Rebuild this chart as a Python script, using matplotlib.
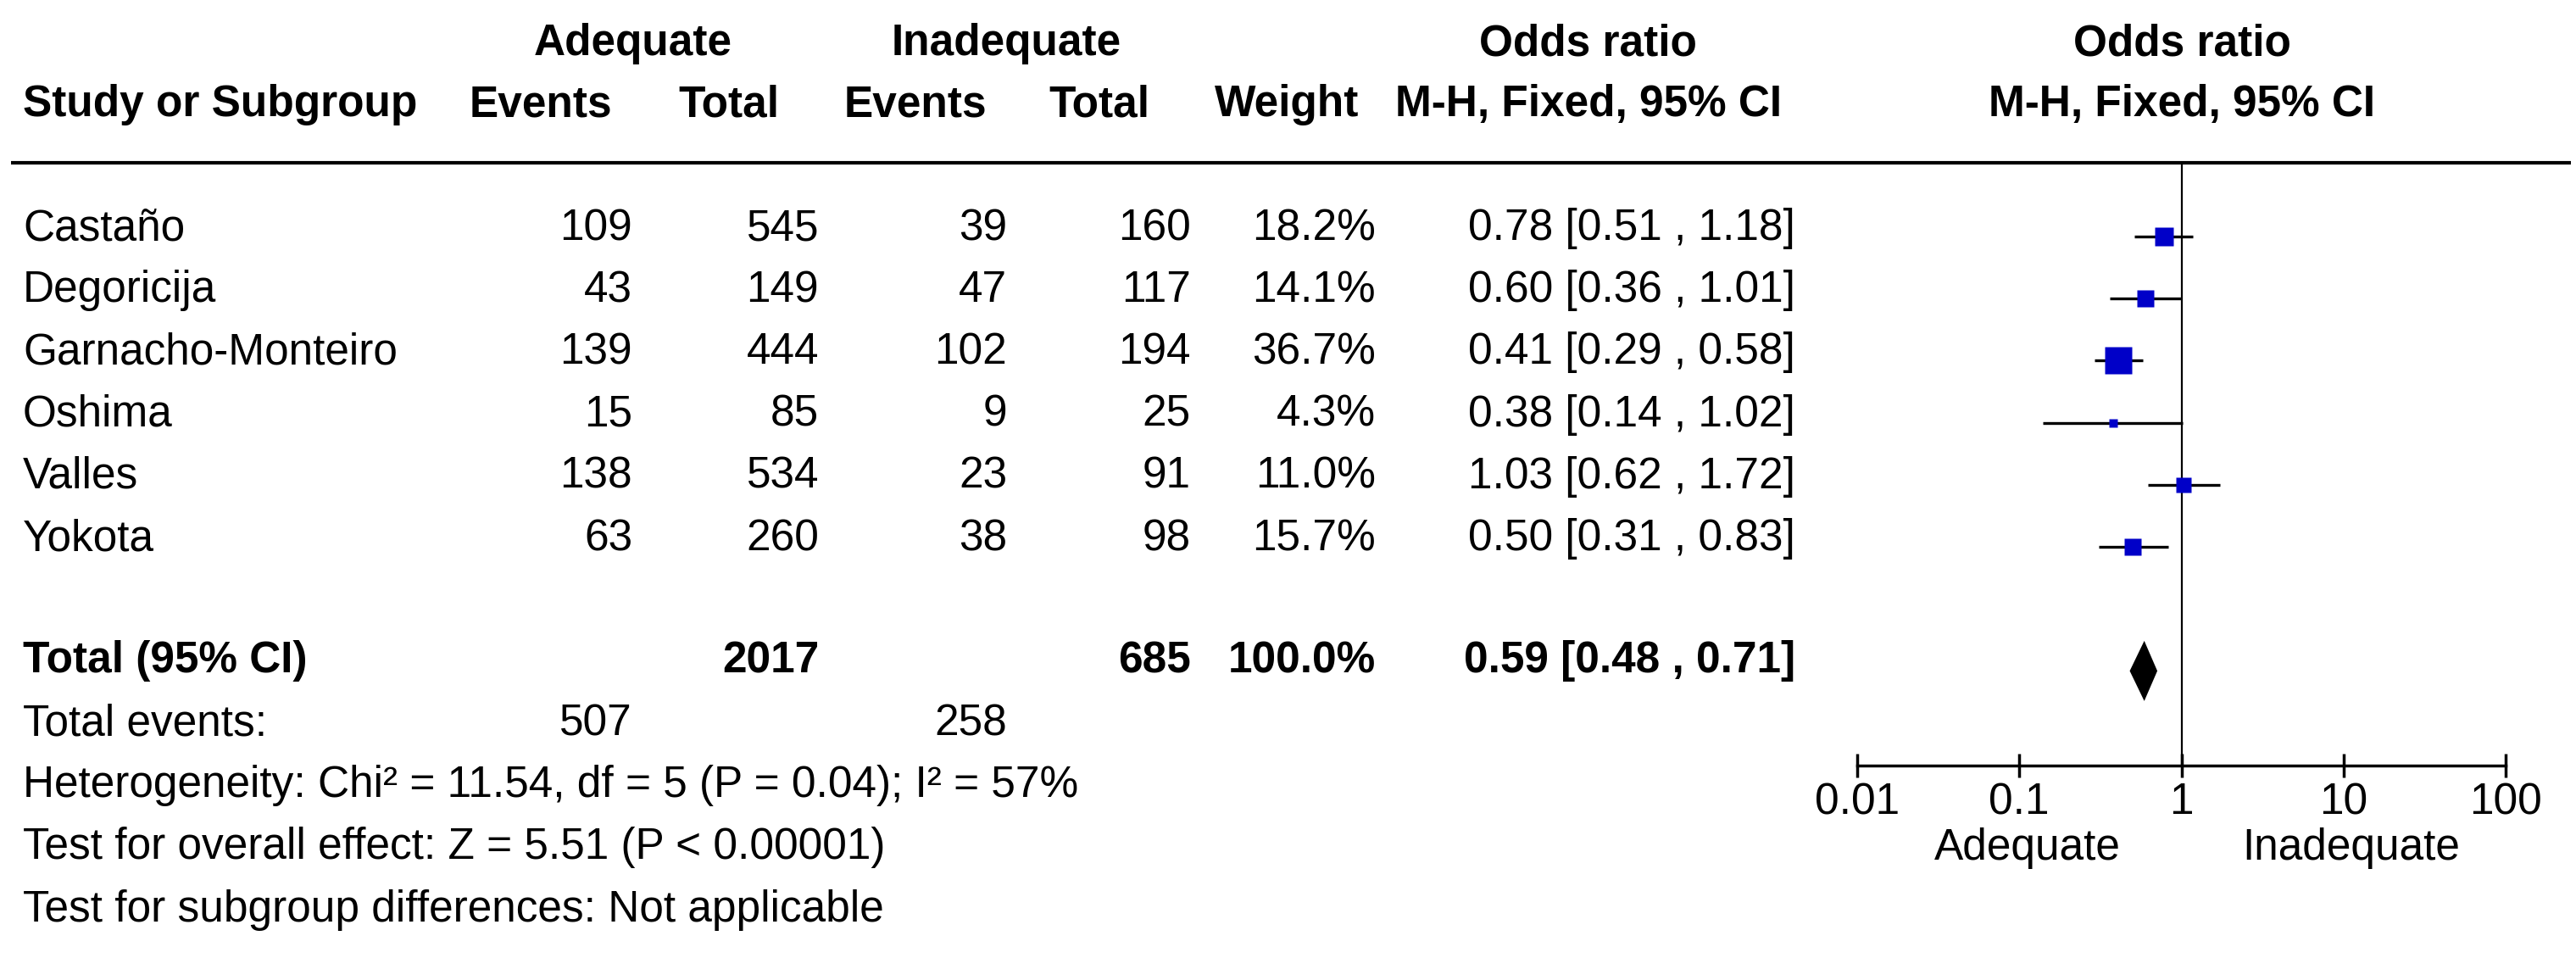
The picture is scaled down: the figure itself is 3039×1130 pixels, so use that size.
import matplotlib
matplotlib.use("Agg")
import matplotlib.pyplot as plt
from matplotlib.ticker import NullLocator
import numpy as np

plt.rcParams['font.family'] = ['Liberation Sans', 'DejaVu Sans']

# ---------------- data ----------------
studies = ["Castaño", "Degoricija", "Garnacho-Monteiro", "Oshima", "Valles", "Yokota"]
adeq_events = [109, 43, 139, 15, 138, 63]
adeq_total = [545, 149, 444, 85, 534, 260]
inad_events = [39, 47, 102, 9, 23, 38]
inad_total = [160, 117, 194, 25, 91, 98]
weights = [18.2, 14.1, 36.7, 4.3, 11.0, 15.7]
or_est = [0.78, 0.60, 0.41, 0.38, 1.03, 0.50]
or_lo = [0.51, 0.36, 0.29, 0.14, 0.62, 0.31]
or_hi = [1.18, 1.01, 0.58, 1.02, 1.72, 0.83]

total_label = "Total (95% CI)"
total_adeq = 2017
total_inad = 685
total_weight = 100.0
pooled_est, pooled_lo, pooled_hi = 0.59, 0.48, 0.71
total_events = [507, 258]
footer_lines = [
    "Heterogeneity: Chi² = 11.54, df = 5 (P = 0.04); I² = 57%",
    "Test for overall effect: Z = 5.51 (P < 0.00001)",
    "Test for subgroup differences: Not applicable",
]
xticks = [0.01, 0.1, 1, 10, 100]
xticklabels = ["0.01", "0.1", "1", "10", "100"]
favours = ["Adequate", "Inadequate"]

# ---------------- layout ----------------
W, H = 3039, 1130
DPI = 100
FS = 37
fig = plt.figure(figsize=(W / DPI, H / DPI), dpi=DPI, facecolor='white')

tax = fig.add_axes([0, 0, 1, 1])
tax.set_xlim(0, W)
tax.set_ylim(H, 0)
tax.axis('off')

def t(x, y, s, ha='left', bold=False):
    tax.text(x, y, s, ha=ha, va='baseline', fontsize=FS,
             fontweight='bold' if bold else 'normal', color='black')

# header row 1
t(747, 65, "Adequate", 'center', True)
t(1187, 65, "Inadequate", 'center', True)
t(1873, 65, "Odds ratio", 'center', True)
t(2574, 65, "Odds ratio", 'center', True)
# header row 2
t(27, 137, "Study or Subgroup", 'left', True)
t(638, 137, "Events", 'center', True)
t(860, 137, "Total", 'center', True)
t(1080, 137, "Events", 'center', True)
t(1297, 137, "Total", 'center', True)
t(1518, 137, "Weight", 'center', True)
t(1874, 137, "M-H, Fixed, 95% CI", 'center', True)
t(2574, 137, "M-H, Fixed, 95% CI", 'center', True)

tax.plot([13, 3033], [192, 192], color='black', lw=3, solid_capstyle='butt')

col_r = [746, 966, 1188, 1405, 1623, 2118]
row0, step = 283, 73.2
for i, name in enumerate(studies):
    y = row0 + step * i
    t(27, y, name)
    t(col_r[0], y, str(adeq_events[i]), 'right')
    t(col_r[1], y, str(adeq_total[i]), 'right')
    t(col_r[2], y, str(inad_events[i]), 'right')
    t(col_r[3], y, str(inad_total[i]), 'right')
    t(col_r[4], y, f"{weights[i]:.1f}%", 'right')
    t(col_r[5], y, f"{or_est[i]:.2f} [{or_lo[i]:.2f} , {or_hi[i]:.2f}]", 'right')

yt = 793
t(27, yt, total_label, 'left', True)
t(col_r[1], yt, str(total_adeq), 'right', True)
t(col_r[3], yt, str(total_inad), 'right', True)
t(col_r[4], yt, f"{total_weight:.1f}%", 'right', True)
t(col_r[5], yt, f"{pooled_est:.2f} [{pooled_lo:.2f} , {pooled_hi:.2f}]", 'right', True)

t(27, 867, "Total events:")
t(col_r[0], 867, str(total_events[0]), 'right')
t(col_r[2], 867, str(total_events[1]), 'right')
for k, line in enumerate(footer_lines):
    t(27, 940 + 73.3 * k, line)

t(2392, 1014, favours[0], 'center')
t(2774, 1014, favours[1], 'center')

# ---------------- forest plot ----------------
x0, x1 = 2191, 2956
ytop, ybot = 192, 903
ax = fig.add_axes([x0 / W, 1 - ybot / H, (x1 - x0) / W, (ybot - ytop) / H])
ax.patch.set_alpha(0)
ax.set_xscale('log')
ax.set_xlim(0.01, 100)
ax.set_ylim(8.525, -1.189)
for s in ['top', 'right', 'left']:
    ax.spines[s].set_visible(False)
ax.spines['bottom'].set_linewidth(2.5)
ax.set_yticks([])
ax.set_xticks(xticks)
ax.set_xticklabels(xticklabels, fontsize=FS)
ax.xaxis.set_minor_locator(NullLocator())
ax.tick_params(axis='x', direction='inout', length=19.5, width=2.5, pad=4)

ax.axvline(1, color='black', lw=1.6, zorder=1)

wmax = max(weights)
for i in range(len(studies)):
    ax.plot([or_lo[i], or_hi[i]], [i, i], color='black', lw=2.4,
            solid_capstyle='butt', zorder=2)
    ax.plot(or_est[i], i, marker='s', ms=23 * np.sqrt(weights[i] / wmax),
            color='#0000C8', mec='none', zorder=3, linestyle='none')

yd = len(studies) + 1
hd = 0.485
ax.fill([pooled_lo, pooled_est, pooled_hi, pooled_est],
        [yd, yd - hd, yd, yd + hd], color='black', zorder=3, lw=0)

fig.savefig("out.png", dpi=DPI, facecolor='white')
